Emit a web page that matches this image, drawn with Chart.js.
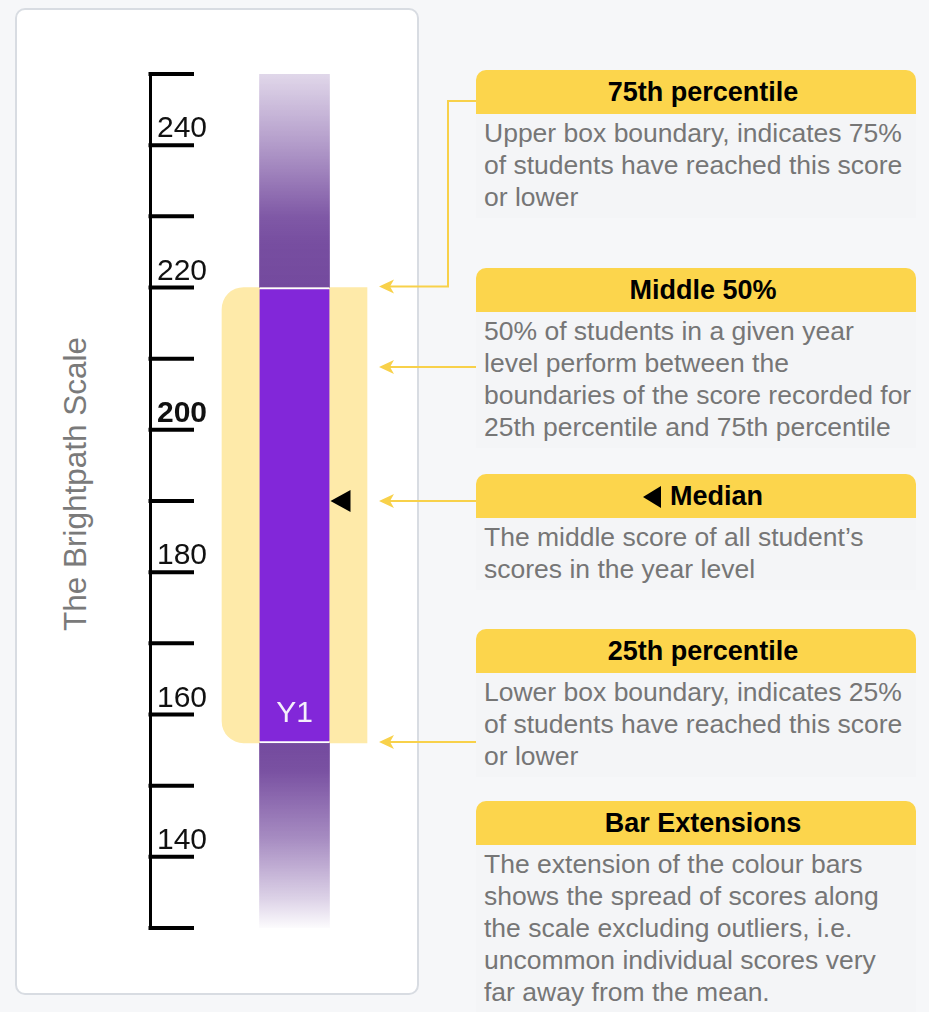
<!DOCTYPE html>
<html>
<head>
<meta charset="utf-8">
<script src="https://cdn.jsdelivr.net/npm/chart.js@4/dist/chart.umd.min.js"></script>
<style>
  html, body { margin: 0; padding: 0; width: 929px; height: 1012px; overflow: hidden; background: #f6f7f9; font-family: "Liberation Sans", Arial, sans-serif; }
  #card { position: absolute; left: 15px; top: 8px; width: 404px; height: 987px; box-sizing: border-box; background: #fff; border: 2px solid #d8dce2; border-radius: 10px; }
  #scaleTitle { position: absolute; left: 75px; top: 484px; transform: translate(-50%, -50%) rotate(-90deg); white-space: nowrap; font-size: 31.5px; color: #7a7a7a; }
  #chart { position: absolute; left: 0; top: 0; }
  .note { position: absolute; left: 476px; width: 440px; }
  .note .head { height: 44px; line-height: 44px; background: #fcd54c; border-radius: 10px 10px 0 0; text-align: center; padding-left: 14px; box-sizing: border-box; font-weight: bold; font-size: 27px; color: #000; }
  .note .body { padding: 3px 0 5px 8px; font-size: 26.5px; line-height: 32px; color: #767676; background: #f4f5f7; white-space: nowrap; }
  .tri { display: inline-block; width: 0; height: 0; border-top: 11px solid transparent; border-bottom: 11px solid transparent; border-right: 18px solid #000; margin-right: 9px; vertical-align: -3px; }
</style>
</head>
<body>
<div id="card"></div>
<div id="scaleTitle">The Brightpath Scale</div>
<canvas id="chart" width="929" height="1012"></canvas>

<div class="note" style="top:70px">
  <div class="head">75th percentile</div>
  <div class="body">Upper box boundary, indicates 75%<br>of students have reached this score<br>or lower</div>
</div>
<div class="note" style="top:268px">
  <div class="head">Middle 50%</div>
  <div class="body">50% of students in a given year<br>level perform between the<br>boundaries of the score recorded for<br>25th percentile and 75th percentile</div>
</div>
<div class="note" style="top:474px">
  <div class="head"><span class="tri"></span>Median</div>
  <div class="body">The middle score of all student’s<br>scores in the year level</div>
</div>
<div class="note" style="top:629px">
  <div class="head">25th percentile</div>
  <div class="body">Lower box boundary, indicates 25%<br>of students have reached this score<br>or lower</div>
</div>
<div class="note" style="top:801px">
  <div class="head">Bar Extensions</div>
  <div class="body">The extension of the colour bars<br>shows the spread of scores along<br>the scale excluding outliers, i.e.<br>uncommon individual scores very<br>far away from the mean.</div>
</div>

<script>
// Data
const categories = ["Y1"];
const lowerExtension = [130];
const percentile25 = [156];
const medianScore = [190];
const percentile75 = [220];
const upperExtension = [250];

// Scale
const scaleMin = 130;
const scaleMax = 250;
const scaleStep = 10;
const labelledTicks = [140, 160, 180, 200, 220, 240];
const boldTick = 200;

const FONT = '"Liberation Sans", Arial, sans-serif';
const NOTE_LEFT = 476;
const ARROW_COLOR = "#f8d14a";

const pairs = (lo, hi) => categories.map((_, i) => [lo[i], hi[i]]);

// vertical fade for the bar extensions, built from the y scale
function fade(fromVals, toVals, stops) {
  return function (c) {
    const chart = c.chart;
    if (!chart.chartArea) return "rgb(116,74,158)";
    const y = chart.scales.y;
    const i = c.dataIndex || 0;
    const g = chart.ctx.createLinearGradient(
      0, y.getPixelForValue(fromVals[i]),
      0, y.getPixelForValue(toVals[i])
    );
    stops.forEach(([o, a]) => g.addColorStop(o, "rgba(116,74,158," + a + ")"));
    return g;
  };
}

// tick marks drawn to the right of the axis line
const tickMarks = {
  id: "tickMarks",
  afterDraw(chart) {
    const { ctx } = chart;
    const y = chart.scales.y;
    const axisX = chart.chartArea.left;
    ctx.save();
    ctx.strokeStyle = "#000";
    ctx.lineWidth = 4;
    y.ticks.forEach((t) => {
      const py = y.getPixelForValue(t.value);
      ctx.beginPath();
      ctx.moveTo(axisX - 1.5, py);
      ctx.lineTo(axisX + 44, py);
      ctx.stroke();
    });
    ctx.restore();
  },
};

// median marker and category label on the box
const boxDecor = {
  id: "boxDecor",
  afterDatasetsDraw(chart) {
    const { ctx } = chart;
    const y = chart.scales.y;
    chart.getDatasetMeta(3).data.forEach((bar, i) => {
      const p = bar.getProps(["x", "width"], true);
      const right = p.x + p.width / 2;
      const my = y.getPixelForValue(medianScore[i]);
      ctx.save();
      ctx.fillStyle = "#000";
      ctx.beginPath();
      ctx.moveTo(right + 1, my);
      ctx.lineTo(right + 21, my - 11);
      ctx.lineTo(right + 21, my + 11);
      ctx.closePath();
      ctx.fill();
      ctx.fillStyle = "#f4effb";
      ctx.font = "30px " + FONT;
      ctx.textAlign = "center";
      ctx.textBaseline = "middle";
      ctx.fillText(categories[i], p.x, y.getPixelForValue(percentile25[i]) - 29);
      ctx.restore();
    });
  },
};

// callout arrows from the notes to the chart
const calloutArrows = {
  id: "calloutArrows",
  afterDraw(chart) {
    const { ctx } = chart;
    const y = chart.scales.y;
    const band = chart.getDatasetMeta(0).data[0].getProps(["x", "width"], true);
    const tipX = band.x + band.width / 2 + 12;
    const yP75 = y.getPixelForValue(percentile75[0]) - 1;
    const yMed = y.getPixelForValue(medianScore[0]);
    const yP25 = y.getPixelForValue(percentile25[0]) - 1;
    const paths = [
      [[NOTE_LEFT, 101], [448, 101], [448, yP75], [tipX, yP75]],
      [[NOTE_LEFT, 367], [tipX, 367]],
      [[NOTE_LEFT, yMed], [tipX, yMed]],
      [[NOTE_LEFT, yP25], [tipX, yP25]],
    ];
    ctx.save();
    ctx.strokeStyle = ARROW_COLOR;
    ctx.fillStyle = ARROW_COLOR;
    ctx.lineWidth = 2;
    ctx.lineJoin = "miter";
    paths.forEach((pts) => {
      const end = pts[pts.length - 1];
      ctx.beginPath();
      pts.forEach(([px, py], k) => {
        const xx = k === pts.length - 1 ? px + 8 : px;
        k === 0 ? ctx.moveTo(px, py) : ctx.lineTo(xx, py);
      });
      ctx.stroke();
      ctx.beginPath();
      ctx.moveTo(end[0], end[1]);
      ctx.lineTo(end[0] + 15, end[1] - 7);
      ctx.lineTo(end[0] + 11, end[1]);
      ctx.lineTo(end[0] + 15, end[1] + 7);
      ctx.closePath();
      ctx.fill();
    });
    ctx.restore();
  },
};

Chart.defaults.font.family = FONT;

new Chart(document.getElementById("chart"), {
  type: "bar",
  data: {
    labels: categories,
    datasets: [
      {
        label: "Middle 50% band",
        data: pairs(percentile25, percentile75),
        backgroundColor: "#feeaa9",
        barThickness: 145,
        borderSkipped: false,
        borderRadius: { topLeft: 22, bottomLeft: 22, topRight: 0, bottomRight: 0 },
        grouped: false,
        order: 3,
      },
      {
        label: "Lower extension",
        data: pairs(lowerExtension, percentile25),
        backgroundColor: fade(percentile25, lowerExtension, [
          [0, 1], [0.15, 0.96], [0.52, 0.63], [0.85, 0.24], [1, 0.02],
        ]),
        barThickness: 70,
        grouped: false,
        order: 2,
      },
      {
        label: "Upper extension",
        data: pairs(percentile75, upperExtension),
        backgroundColor: fade(percentile75, upperExtension, [
          [0, 1], [0.2, 0.98], [0.33, 0.92], [0.67, 0.55], [1, 0.22],
        ]),
        barThickness: 70,
        grouped: false,
        order: 2,
      },
      {
        label: "Middle 50%",
        data: pairs(percentile25, percentile75),
        backgroundColor: "#8227d9",
        borderColor: "#ffffff",
        borderWidth: { top: 2, bottom: 2, left: 0, right: 0 },
        borderSkipped: false,
        barThickness: 70,
        grouped: false,
        order: 1,
      },
    ],
  },
  options: {
    responsive: false,
    animation: false,
    layout: {
      padding: { top: 74, bottom: 84, left: 136, right: 490 },
    },
    scales: {
      x: {
        display: false,
      },
      y: {
        min: scaleMin,
        max: scaleMax,
        position: "left",
        border: {
          display: true,
          color: "#000",
          width: 3,
        },
        grid: {
          drawOnChartArea: false,
          drawTicks: false,
        },
        ticks: {
          stepSize: scaleStep,
          autoSkip: false,
          mirror: true,
          padding: 7,
          labelOffset: -16,
          color: "#111",
          font: (c) => ({
            size: 30,
            family: FONT,
            weight: c.tick && c.tick.value === boldTick ? "bold" : "normal",
          }),
          callback: (v) => (labelledTicks.includes(v) ? String(v) : ""),
        },
      },
    },
    plugins: {
      legend: { display: false },
      tooltip: { enabled: false },
    },
  },
  plugins: [tickMarks, boxDecor, calloutArrows],
});
</script>
</body>
</html>
